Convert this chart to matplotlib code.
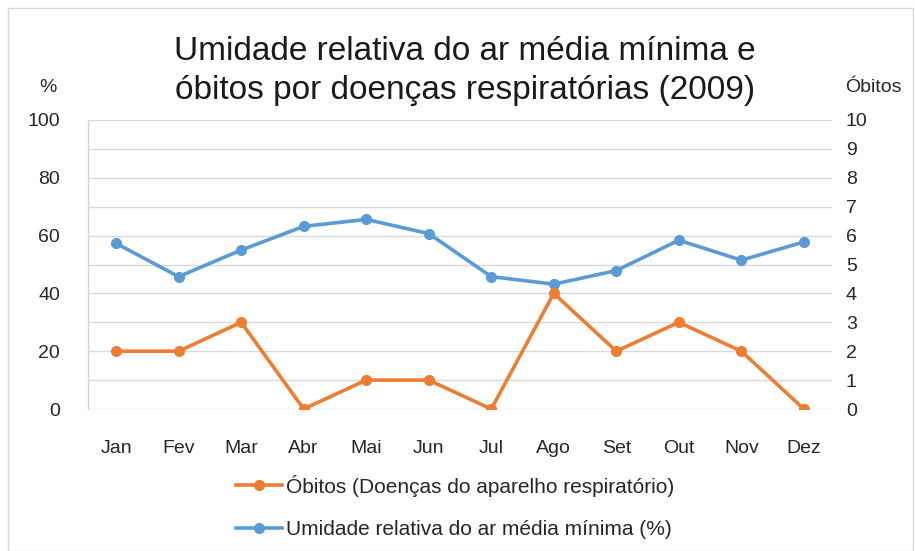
import matplotlib
matplotlib.use("Agg")
import matplotlib.pyplot as plt
from matplotlib.lines import Line2D
from matplotlib.patches import Rectangle

plt.rcParams['font.family'] = ['Liberation Sans', 'DejaVu Sans']

months = ["Jan", "Fev", "Mar", "Abr", "Mai", "Jun", "Jul", "Ago", "Set", "Out", "Nov", "Dez"]
umidade = [57.3, 45.8, 55.0, 63.2, 65.6, 60.7, 45.8, 43.2, 47.9, 58.4, 51.5, 57.8]
obitos = [2, 2, 3, 0, 1, 1, 0, 4, 2, 3, 2, 0]
left_ticks = [0, 20, 40, 60, 80, 100]
right_ticks = list(range(0, 11))

blue = "#5B9BD5"
orange = "#ED7D31"
grid_c = "#D9D9D9"
txt = "#262626"

fig = plt.figure(figsize=(9.15, 5.51), dpi=100)
fig.patches.append(Rectangle((8/915, 0), 1 - 10/915, 1 - 8/551, transform=fig.transFigure,
                             fill=False, edgecolor="#D9D9D9", lw=1))

W, H = 915, 551
ax = fig.add_axes([88/W, 1 - 409/H, (832-88)/W, (409-120)/H])
ax2 = ax.twinx()
x = list(range(len(months)))

ax.set_xlim(-0.45, 11.45)
ax.set_ylim(0, 100)
ax2.set_ylim(0, 10)
for g in range(0, 101, 10):
    ax.axhline(g, color=grid_c, lw=1, zorder=0)

ax.plot(x, umidade, color=blue, lw=2.6, marker='o', ms=7, zorder=3)
ax2.plot(x, obitos, color=orange, lw=2.6, marker='o', ms=7, zorder=3)

for a in (ax, ax2):
    for s in a.spines.values():
        s.set_visible(False)
ax.spines['left'].set_visible(True)
ax.spines['left'].set_color("#BDD7EE")
ax.spines['left'].set_linewidth(1)

ax.set_yticks(left_ticks)
ax2.set_yticks(right_ticks)
ax.set_xticks(x)
ax.set_xticklabels(months)
ax.tick_params(axis='both', length=0, labelsize=14, labelcolor=txt)
ax.tick_params(axis='y', pad=20)
ax.tick_params(axis='x', pad=22)
ax2.tick_params(axis='y', length=0, labelsize=14, labelcolor=txt, pad=10)

fig.text(48/W, 1 - 88/H, "%", ha='center', va='center', fontsize=14, color=txt)
fig.text(873/W, 1 - 88/H, "Óbitos", ha='center', va='center', fontsize=14, color=txt)

fig.text(465/W, 1 - 71/H, "Umidade relativa do ar média mínima e\nóbitos por doenças respiratórias (2009)",
         ha='center', va='center', fontsize=24, color="#1a1a1a", linespacing=1.3)

handles = [Line2D([], [], color=orange, lw=2.6, marker='o', ms=7),
           Line2D([], [], color=blue, lw=2.6, marker='o', ms=7)]
labels = ["Óbitos (Doenças do aparelho respiratório)", "Umidade relativa do ar média mínima (%)"]
fig.legend(handles, labels, loc='center', bbox_to_anchor=(455/W, 1 - 507/H), frameon=False,
           fontsize=15, handlelength=2.2, handletextpad=0.2, labelspacing=1.15, labelcolor=txt)

fig.savefig("out.png", dpi=100)
